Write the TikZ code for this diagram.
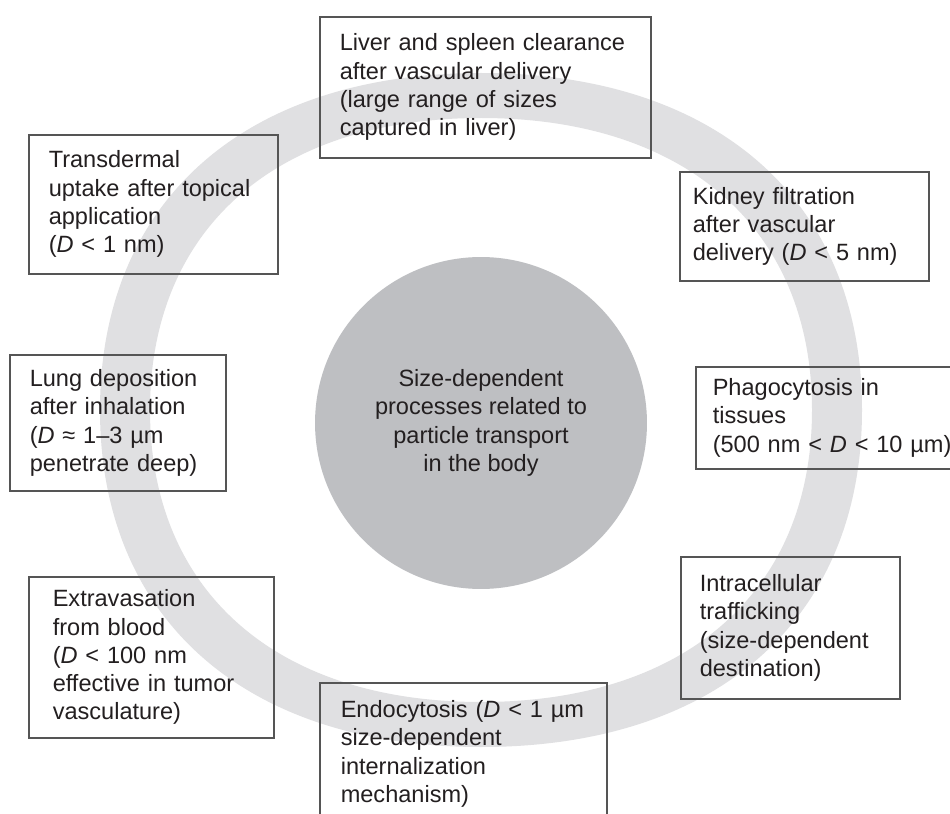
\documentclass[tikz,border=0pt]{standalone}
\usepackage{fontspec}
\setmainfont{Liberation Sans}
\usepackage{xcolor}
\definecolor{ringgray}{RGB}{224,224,226}
\definecolor{coregray}{RGB}{190,191,194}
\definecolor{boxline}{RGB}{85,85,85}
\definecolor{ink}{RGB}{35,31,32}

\begin{document}
\begin{tikzpicture}[
  x=0.02cm, y=-0.02cm,
  box/.style={draw=boxline, line width=0.9pt, anchor=north west,
              align=left, text=ink, inner ysep=0pt,
              font=\fontsize{13.4}{16.1}\selectfont},
  core/.style={circle, fill=coregray, minimum size=6.64cm, align=center,
               text=ink, font=\fontsize{13.4}{16.1}\selectfont}
]
\clip (0,0) rectangle (950,814);
\fill[white] (0,0) rectangle (950,814);
\fill[ringgray, even odd rule]
  (862,410) .. controls (862,618.9) and (717.2,747) .. (481,747)
            .. controls (244.8,747) and (100,618.9) .. (100,410)
            .. controls (100,201.1) and (244.8,73) .. (481,73)
            .. controls (717.2,73) and (862,201.1) .. (862,410) -- cycle
  (812,410) .. controls (812,591) and (686.2,702) .. (481,702)
            .. controls (275.8,702) and (150,591) .. (150,410)
            .. controls (150,229) and (275.8,118) .. (481,118)
            .. controls (686.2,118) and (812,229) .. (812,410) -- cycle;
\node[core] (core) at (481,423)
  {Size-dependent\\processes related to\\particle transport\\in the body};
\node[box, inner xsep=0.40cm, text width=5.82cm, minimum height=2.82cm] (liver) at (319,16)
  {Liver and spleen clearance\\after vascular delivery\\(large range of sizes\\captured in liver)};
\node[box, inner xsep=0.26cm, text width=4.46cm, minimum height=2.18cm] (kidney) at (679,171)
  {Kidney filtration\\after vascular\\delivery (\textit{D} < 5 nm)};
\node[box, inner xsep=0.34cm, text width=5.22cm, minimum height=2.04cm] (phago) at (695,366)
  {Phagocytosis in\\tissues\\(500 nm < \textit{D} < 10 µm)};
\node[box, inner xsep=0.38cm, text width=3.62cm, minimum height=2.84cm] (intra) at (680,556)
  {Intracellular\\trafficking\\(size-dependent\\destination)};
\node[box, inner xsep=0.42cm, text width=4.90cm, minimum height=2.84cm] (endo) at (319,682)
  {Endocytosis (\textit{D} < 1 µm\\size-dependent\\internalization\\mechanism)};
\node[box, inner xsep=0.48cm, text width=3.94cm, minimum height=3.22cm] (extra) at (28,576)
  {Extravasation\\from blood\\(\textit{D} < 100 nm\\effective in tumor\\vasculature)};
\node[box, inner xsep=0.40cm, text width=3.52cm, minimum height=2.72cm] (lung) at (9,354)
  {Lung deposition\\after inhalation\\(\textit{D} ≈ 1–3 µm\\penetrate deep)};
\node[box, inner xsep=0.40cm, text width=4.18cm, minimum height=2.78cm] (trans) at (28,134)
  {Transdermal\\uptake after topical\\application\\(\textit{D} < 1 nm)};
\end{tikzpicture}
\end{document}
